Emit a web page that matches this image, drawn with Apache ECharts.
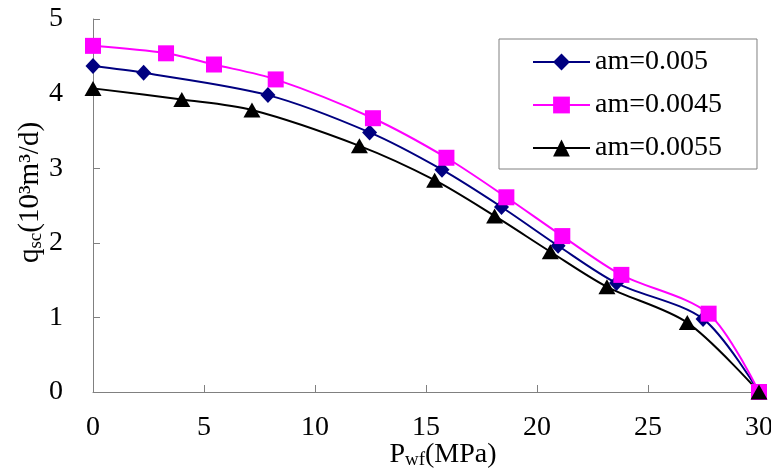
<!DOCTYPE html>
<html>
<head>
<meta charset="utf-8">
<script src="https://cdn.jsdelivr.net/npm/echarts@6/dist/echarts.min.js"></script>
<style>
  html, body { margin: 0; padding: 0; background: #fff; }
  #chart { width: 771px; height: 473px; }
</style>
</head>
<body>
<div id="chart"></div>
<script>
// values: [Pwf (MPa), qsc (10^3 m^3/d)]
const seriesNames = ['am=0.005', 'am=0.0045', 'am=0.0055'];
const am005 = [[0, 4.37], [2.28, 4.28], [7.88, 3.98], [12.46, 3.48], [15.72, 2.98], [18.4, 2.48], [20.95, 1.96], [23.58, 1.46], [27.48, 0.98], [30, 0]];
const am0045 = [[0, 4.64], [3.29, 4.54], [5.45, 4.39], [8.23, 4.19], [12.61, 3.67], [15.92, 3.14], [18.62, 2.61], [21.14, 2.09], [23.8, 1.57], [27.73, 1.05], [30, 0]];
const am0055 = [[0, 4.07], [4.0, 3.92], [7.16, 3.78], [12.0, 3.3], [15.39, 2.84], [18.09, 2.36], [20.6, 1.88], [23.15, 1.41], [26.77, 0.93], [30, 0]];
const xTicks = [0, 5, 10, 15, 20, 25, 30];
const yTicks = [0, 1, 2, 3, 4, 5];

const font = '"Liberation Serif", "DejaVu Serif", serif';
const axisGray = '#808080';

const chart = echarts.init(document.getElementById('chart'));

const axisCommon = {
  axisLine: { show: true, lineStyle: { color: axisGray, width: 1 } },
  axisTick: { show: true, inside: true, length: 7, lineStyle: { color: axisGray } },
  splitLine: { show: false },
  nameMoveOverlap: false,
};

const subStyle = { fontFamily: font, fontSize: 19, color: '#000', verticalAlign: 'bottom', padding: [12, 0, 0, 0] };

chart.setOption({
  animation: false,
  backgroundColor: '#fff',
  grid: { left: 93, right: 12, top: 19, bottom: 81, containLabel: false, outerBoundsMode: 'none' },
  legend: {
    orient: 'vertical',
    left: 499,
    top: 39,
    padding: [9, 35, 7, 33],
    itemGap: 15,
    itemWidth: 57,
    itemHeight: 21,
    borderColor: axisGray,
    borderWidth: 1,
    backgroundColor: '#fff',
    lineStyle: { width: 2 },
    textStyle: { fontFamily: font, fontSize: 28, color: '#000', lineHeight: 26 },
    data: seriesNames,
  },
  xAxis: {
    type: 'value',
    min: xTicks[0],
    max: xTicks[xTicks.length - 1],
    interval: 5,
    ...axisCommon,
    axisLabel: { margin: 22, fontFamily: font, fontSize: 28, color: '#000' },
    name: 'P{sub|wf}(MPa)',
    nameLocation: 'middle',
    nameGap: 47,
    nameTextStyle: {
      fontFamily: font, fontSize: 28, color: '#000', padding: [0, 0, 0, 34],
      rich: { sub: subStyle },
    },
  },
  yAxis: {
    type: 'value',
    min: yTicks[0],
    max: yTicks[yTicks.length - 1],
    interval: 1,
    ...axisCommon,
    axisLabel: { margin: 30, fontFamily: font, fontSize: 28, color: '#000' },
    name: 'q{sub|sc}(10³m³/d)',
    nameLocation: 'middle',
    nameGap: 47,
    nameTextStyle: {
      fontFamily: font, fontSize: 29, color: '#000', padding: [0, 0, 0, 26],
      rich: { sub: subStyle },
    },
  },
  series: [
    {
      name: seriesNames[0],
      type: 'line',
      data: am005,
      smooth: 0.3,
      symbol: 'diamond',
      symbolSize: [15, 16],
      lineStyle: { color: '#000080', width: 2 },
      itemStyle: { color: '#000080' },
    },
    {
      name: seriesNames[1],
      type: 'line',
      data: am0045,
      smooth: 0.3,
      symbol: 'rect',
      symbolSize: 16,
      lineStyle: { color: '#ff00ff', width: 2 },
      itemStyle: { color: '#ff00ff' },
    },
    {
      name: seriesNames[2],
      type: 'line',
      data: am0055,
      smooth: 0.3,
      symbol: 'triangle',
      symbolSize: [17, 15],
      lineStyle: { color: '#000000', width: 2 },
      itemStyle: { color: '#000000' },
    },
  ],
});
</script>
</body>
</html>
